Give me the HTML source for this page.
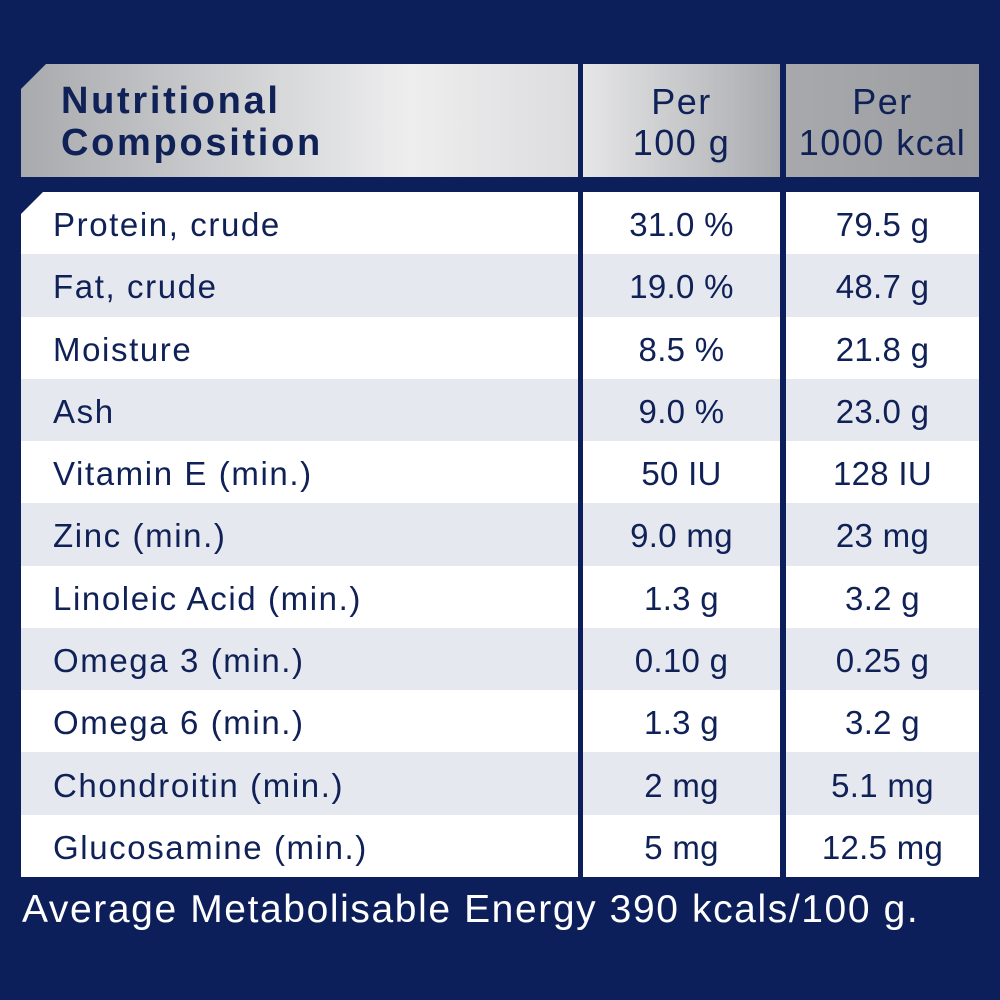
<!DOCTYPE html>
<html><head><style>
*{margin:0;padding:0;box-sizing:border-box}
body{width:1000px;height:1000px;background:#0c1f5b;position:relative;overflow:hidden;font-family:"Liberation Sans",sans-serif;color:#0f2157}
.h{position:absolute;top:64px;height:113px}
.c{position:absolute;height:62.3px;display:flex;align-items:center;font-size:33px;letter-spacing:1.6px;padding-top:4px;white-space:nowrap}
.l{left:21px;width:557px;padding-left:32px}
.m{left:583px;width:197px;justify-content:center;letter-spacing:0.3px}
.r{left:786px;width:193px;justify-content:center;letter-spacing:0.3px}
.w{background:#fff}.g{background:#e5e8ef}
</style></head><body>
<div class="h" style="left:21px;width:557px;background:linear-gradient(90deg,#a9aaad,#d5d6d8 45%,#eeeeef 70%,#dcdcde);clip-path:polygon(25px 0,100% 0,100% 100%,0 100%,0 25px)"></div>
<div class="h" style="left:583px;width:197px;background:linear-gradient(90deg,#e6e6e7,#bcbdc0 70%,#a9aaad)"></div>
<div class="h" style="left:786px;width:193px;background:linear-gradient(90deg,#a8a9ac,#9c9da0)"></div>
<div style="position:absolute;left:61px;top:80px;font-size:38px;font-weight:bold;line-height:42px;letter-spacing:2.7px">Nutritional<br>Composition</div>
<div style="position:absolute;left:583px;width:197px;top:81px;font-size:36px;line-height:41px;text-align:center;letter-spacing:1.5px">Per<br>100 g</div>
<div style="position:absolute;left:786px;width:193px;top:81px;font-size:36px;line-height:41px;text-align:center;letter-spacing:1.5px">Per<br>1000 kcal</div>
<div id="rows"></div>
<div style="position:absolute;left:22px;top:888px;font-size:39px;color:#fff;white-space:nowrap;letter-spacing:1.6px">Average Metabolisable Energy 390 kcals/100 g.</div>
<script>
const d=[["Protein, crude","31.0 %","79.5 g"],["Fat, crude","19.0 %","48.7 g"],["Moisture","8.5 %","21.8 g"],["Ash","9.0 %","23.0 g"],["Vitamin E (min.)","50 IU","128 IU"],["Zinc (min.)","9.0 mg","23 mg"],["Linoleic Acid (min.)","1.3 g","3.2 g"],["Omega 3 (min.)","0.10 g","0.25 g"],["Omega 6 (min.)","1.3 g","3.2 g"],["Chondroitin (min.)","2 mg","5.1 mg"],["Glucosamine (min.)","5 mg","12.5 mg"]];
let h="";d.forEach((r,i)=>{const t=192+i*62.27,b=i%2?"g":"w",cp=i==0?'clip-path:polygon(22px 0,100% 0,100% 100%,0 100%,0 22px);':'';
h+=`<div class="c l ${b}" style="top:${t}px;${cp}">${r[0]}</div><div class="c m ${b}" style="top:${t}px">${r[1]}</div><div class="c r ${b}" style="top:${t}px">${r[2]}</div>`});
document.getElementById("rows").innerHTML=h;
</script>
</body></html>
